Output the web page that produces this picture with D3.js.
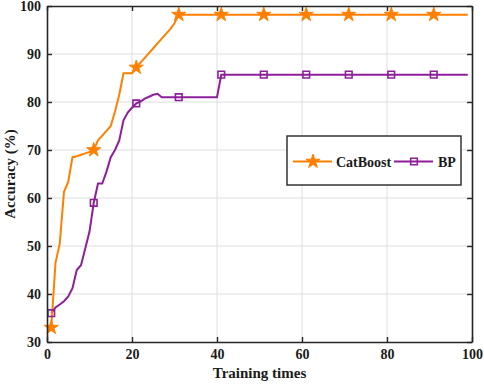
<!DOCTYPE html>
<html>
<head>
<meta charset="utf-8">
<script src="https://cdn.jsdelivr.net/npm/d3@7"></script>
<style>
  body { margin: 0; background: #fff; }
  text { font-family: "Liberation Serif", "Times New Roman", serif; font-weight: bold; }
</style>
</head>
<body>
<svg class="svg1" width="484" height="385"></svg>
<script>
// series vertices (training times -> accuracy)
var catX = [1, 2, 3, 4, 5, 6, 7, 8, 9, 10, 11, 12, 13, 14, 15, 16, 17, 18, 19, 20,
            21, 22, 23, 24, 25, 26, 27, 28, 29, 30, 31, 41, 51, 61, 71, 81, 91, 99];
var catY = [33, 46.5, 50.5, 61.3, 63.4, 68.5, 68.7, 69, 69.3, 69.6, 70, 72, 73, 74, 75, 78, 81.5, 86, 86, 86,
            87.2, 88.2, 89.2, 90.2, 91.2, 92.2, 93.2, 94.2, 95.2, 96.4, 98.2, 98.2, 98.2, 98.2, 98.2, 98.2, 98.2, 98.2];

var bpX = [1, 2, 3, 4, 5, 6, 7, 8, 9, 10, 11, 12, 13, 14, 15, 16, 17, 18, 19, 20,
           21, 22, 23, 24, 25, 26, 27, 31, 40, 41, 51, 61, 71, 81, 91, 99];
var bpY = [36, 37.2, 37.8, 38.5, 39.5, 41.2, 45, 46, 49.5, 53, 59, 63, 63, 65.5, 68.5, 70, 72, 76.2, 77.8, 78.8,
           79.7, 80.1, 80.7, 81.1, 81.5, 81.7, 81, 81, 81, 85.7, 85.7, 85.7, 85.7, 85.7, 85.7, 85.7];

var markerX = [1, 11, 21, 31, 41, 51, 61, 71, 81, 91];

var xTicks = [0, 20, 40, 60, 80, 100];
var yTicks = [30, 40, 50, 60, 70, 80, 90, 100];

var ORANGE = "#ff8000";
var PURPLE = "#8e1f9a";

var svg1 = d3.select(".svg1");

var scaleX = d3.scaleLinear().domain([0, 100]).range([47, 472]);
var scaleY = d3.scaleLinear().domain([30, 100]).range([342, 6]);

// grid
svg1.append("g")
    .selectAll("line")
    .data(xTicks.slice(1, -1))
    .enter()
    .append("line")
    .attr("x1", d => scaleX(d)).attr("x2", d => scaleX(d))
    .attr("y1", scaleY(30)).attr("y2", scaleY(100))
    .style("stroke", "#dedede").style("stroke-width", 1);

svg1.append("g")
    .selectAll("line")
    .data(yTicks.slice(1, -1))
    .enter()
    .append("line")
    .attr("x1", scaleX(0)).attr("x2", scaleX(100))
    .attr("y1", d => scaleY(d)).attr("y2", d => scaleY(d))
    .style("stroke", "#dedede").style("stroke-width", 1);

// series
var line = d3.line()
    .x(d => scaleX(d[0]))
    .y(d => scaleY(d[1]));

var catData = catX.map((x, i) => [x, catY[i]]);
var bpData = bpX.map((x, i) => [x, bpY[i]]);

svg1.append("path")
    .datum(bpData)
    .attr("d", line)
    .style("fill", "none").style("stroke", PURPLE).style("stroke-width", 2);

svg1.append("path")
    .datum(catData)
    .attr("d", line)
    .style("fill", "none").style("stroke", ORANGE).style("stroke-width", 2);

var star = d3.symbol().type(d3.symbolStar).size(62);
var square = d3.symbol().type(d3.symbolSquare).size(44);

svg1.append("g")
    .selectAll("path")
    .data(bpData.filter(d => markerX.indexOf(d[0]) >= 0))
    .enter()
    .append("path")
    .attr("d", square)
    .attr("transform", d => "translate(" + scaleX(d[0]) + "," + scaleY(d[1]) + ")")
    .style("fill", "none").style("stroke", PURPLE).style("stroke-width", 1.6);

svg1.append("g")
    .selectAll("path")
    .data(catData.filter(d => markerX.indexOf(d[0]) >= 0))
    .enter()
    .append("path")
    .attr("d", star)
    .attr("transform", d => "translate(" + scaleX(d[0]) + "," + scaleY(d[1]) + ")")
    .style("fill", ORANGE).style("stroke", ORANGE).style("stroke-width", 1);

// axes (ticks point inward)
function styleAxis(g) {
    g.select(".domain").style("stroke", "#262626").style("stroke-width", 1.6);
    g.selectAll(".tick line").style("stroke", "#262626").style("stroke-width", 1.4);
    g.selectAll("text")
        .style("font-family", "'Liberation Serif', serif")
        .style("font-weight", "bold")
        .style("font-size", "14px")
        .style("fill", "#1a1a1a");
}

svg1.append("g")
    .attr("transform", "translate(0," + scaleY(30) + ")")
    .call(d3.axisBottom(scaleX).tickValues(xTicks).tickSizeInner(-5).tickSizeOuter(0).tickPadding(7))
    .call(styleAxis);

svg1.append("g")
    .attr("transform", "translate(" + scaleX(0) + ",0)")
    .call(d3.axisLeft(scaleY).tickValues(yTicks).tickSizeInner(-5).tickSizeOuter(0).tickPadding(6))
    .call(styleAxis);

svg1.append("g")
    .attr("transform", "translate(0," + scaleY(100) + ")")
    .call(d3.axisTop(scaleX).tickValues(xTicks).tickSizeInner(-5).tickSizeOuter(0).tickFormat(""))
    .call(styleAxis);

svg1.append("g")
    .attr("transform", "translate(" + scaleX(100) + ",0)")
    .call(d3.axisRight(scaleY).tickValues(yTicks).tickSizeInner(-5).tickSizeOuter(0).tickFormat(""))
    .call(styleAxis);

// axis titles
svg1.append("text")
    .attr("x", (scaleX(0) + scaleX(100)) / 2)
    .attr("y", 378)
    .attr("text-anchor", "middle")
    .style("font-size", "15px")
    .style("fill", "#1a1a1a")
    .text("Training times");

svg1.append("text")
    .attr("x", -(scaleY(30) + scaleY(100)) / 2)
    .attr("y", 15)
    .attr("text-anchor", "middle")
    .attr("transform", "rotate(-90)")
    .style("font-size", "15px")
    .style("fill", "#1a1a1a")
    .text("Accuracy (%)");

// legend
var legend = svg1.append("g").attr("transform", "translate(287,136)");

legend.append("rect")
    .attr("width", 174).attr("height", 49)
    .style("fill", "#fff").style("stroke", "#262626").style("stroke-width", 1.4);

legend.append("line")
    .attr("x1", 6).attr("x2", 45).attr("y1", 25.5).attr("y2", 25.5)
    .style("stroke", ORANGE).style("stroke-width", 2);
legend.append("path")
    .attr("d", star)
    .attr("transform", "translate(26,25.5)")
    .style("fill", ORANGE).style("stroke", ORANGE).style("stroke-width", 1);
legend.append("text")
    .attr("x", 49).attr("y", 30.5)
    .style("font-size", "14px").style("fill", "#1a1a1a")
    .text("CatBoost");

legend.append("line")
    .attr("x1", 107).attr("x2", 146).attr("y1", 25.5).attr("y2", 25.5)
    .style("stroke", PURPLE).style("stroke-width", 2);
legend.append("path")
    .attr("d", square)
    .attr("transform", "translate(127,25.5)")
    .style("fill", "none").style("stroke", PURPLE).style("stroke-width", 1.6);
legend.append("text")
    .attr("x", 151).attr("y", 30.5)
    .style("font-size", "14px").style("fill", "#1a1a1a")
    .text("BP");
</script>
</body>
</html>
